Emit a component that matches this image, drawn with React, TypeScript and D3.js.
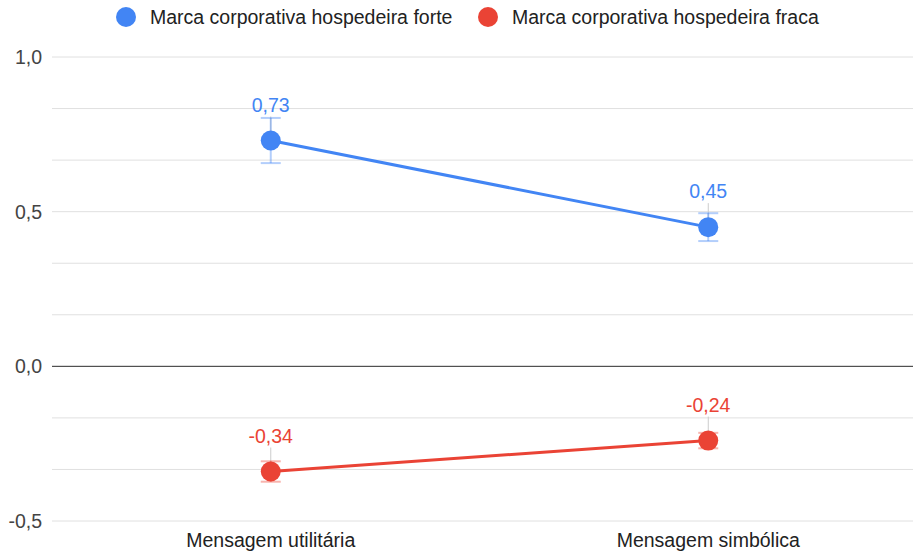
import React from 'react';
import * as d3 from 'd3';

const categories = ['Mensagem utilitária', 'Mensagem simbólica'];
const seriesNames = ['Marca corporativa hospedeira forte', 'Marca corporativa hospedeira fraca'];
const seriesColors = ['#4285f4', '#ea4335'];
const strongValues = [0.73, 0.45];
const weakValues = [-0.34, -0.24];
const strongErrors = [0.073, 0.045];
const weakErrors = [0.033, 0.025];
const yTicks = [1.0, 0.5, 0.0, -0.5];
const gridTicks = [1.0, 5 / 6, 4 / 6, 0.5, 2 / 6, 1 / 6, 0, -1 / 6, -2 / 6, -0.5];

const W = 913;
const H = 553;
const FONT = 'Arial, "Liberation Sans", sans-serif';
const FS = 19.5;
const fmt = (v: number) => v.toFixed(2).replace('.', ',');

export default function App() {
  const left = 52;
  const right = 927;
  const x = d3.scaleBand().domain(categories).range([left, right]);
  const y = d3.scaleLinear().domain([-0.5, 1.0]).range([521, 57]);
  const cx = (c: string) => (x(c) as number) + x.bandwidth() / 2;

  const series = [
    { name: seriesNames[0], color: seriesColors[0], values: strongValues, errors: strongErrors },
    { name: seriesNames[1], color: seriesColors[1], values: weakValues, errors: weakErrors },
  ];

  const line = d3
    .line<number>()
    .x((_, i) => cx(categories[i]))
    .y((d) => y(d));

  return (
    <svg width={W} height={H} style={{ position: 'absolute', left: 0, top: 0, fontFamily: FONT }}>
      <rect width={W} height={H} fill="#fff" />
      {/* legend */}
      <g>
        <circle cx={126} cy={17} r={10} fill={seriesColors[0]} />
        <text x={150} y={24} fontSize={FS} fill="#222">{seriesNames[0]}</text>
        <circle cx={488} cy={17} r={10} fill={seriesColors[1]} />
        <text x={512} y={24} fontSize={FS} fill="#222">{seriesNames[1]}</text>
      </g>
      {/* grid */}
      {gridTicks.map((t, i) => (
        <line key={i} x1={left} x2={W} y1={y(t)} y2={y(t)} stroke="#e0e0e0" strokeWidth={1} />
      ))}
      {yTicks.map((t) => (
        <text key={t} x={42} y={y(t) + 7} fontSize={FS} textAnchor="end" fill="#444">
          {t.toFixed(1).replace('.', ',')}
        </text>
      ))}
      <line x1={left} x2={W} y1={y(0)} y2={y(0)} stroke="#333" strokeWidth={1} />
      {categories.map((c) => (
        <text key={c} x={cx(c)} y={547} fontSize={FS} textAnchor="middle" fill="#222">
          {c}
        </text>
      ))}
      {series.map((s) => (
        <g key={s.name}>
          {/* annotation stems */}
          {s.values.map((v, i) => (
            <line key={'st' + i} x1={cx(categories[i])} x2={cx(categories[i])} y1={y(v) - 24} y2={y(v)} stroke="#ccc" strokeWidth={1} />
          ))}
          {/* error bars */}
          {s.values.map((v, i) => {
            const px = cx(categories[i]);
            const hi = y(v + s.errors[i]);
            const lo = y(v - s.errors[i]);
            return (
              <g key={'e' + i} stroke={s.color} strokeOpacity={0.4} strokeWidth={2}>
                <line x1={px} x2={px} y1={hi} y2={lo} />
                <line x1={px - 10} x2={px + 10} y1={hi} y2={hi} />
                <line x1={px - 10} x2={px + 10} y1={lo} y2={lo} />
              </g>
            );
          })}
          <path d={line(s.values) as string} fill="none" stroke={s.color} strokeWidth={3} />
          {s.values.map((v, i) => (
            <circle key={'p' + i} cx={cx(categories[i])} cy={y(v)} r={10} fill={s.color} />
          ))}
          {s.values.map((v, i) => (
            <text key={'l' + i} x={cx(categories[i])} y={y(v) - 29} fontSize={FS} textAnchor="middle" fill={s.color}>
              {fmt(v)}
            </text>
          ))}
        </g>
      ))}
    </svg>
  );
}
